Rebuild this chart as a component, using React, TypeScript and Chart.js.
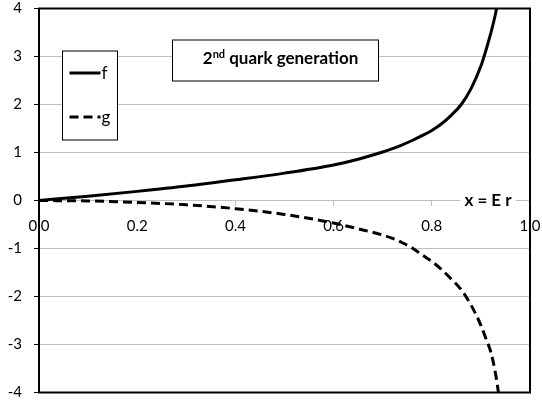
import React, { useEffect, useRef } from "react";
import { Chart, registerables } from "chart.js";

Chart.register(...registerables);

const xValues = [0, 0.1, 0.2, 0.3, 0.4, 0.5, 0.6, 0.65, 0.7, 0.72, 0.74, 0.76, 0.78, 0.8, 0.82, 0.84, 0.86, 0.88, 0.9, 0.91, 0.92, 0.93, 0.94];
const fValues = [0, 0.09, 0.19, 0.3, 0.43, 0.57, 0.74, 0.86, 1.01, 1.08, 1.16, 1.25, 1.35, 1.46, 1.6, 1.78, 2.0, 2.33, 2.8, 3.12, 3.48, 3.9, 4.45];
const gValues = [0, -0.01, -0.04, -0.09, -0.17, -0.29, -0.47, -0.59, -0.72, -0.79, -0.88, -0.99, -1.13, -1.27, -1.44, -1.64, -1.86, -2.18, -2.6, -2.87, -3.15, -3.62, -4.3];
const seriesLabels = ["f", "g"];
const boxTitleMain = "2";
const boxTitleSup = "nd";
const boxTitleRest = " quark generation";
const xAxisLabel = "x = E r";

const FONT = "Lato, 'Open Sans', sans-serif";

const decorPlugin = {
  id: "decor",
  afterDatasetsDraw(chart: any) {
    const { ctx, chartArea } = chart;
    const L = chartArea.left;
    const T = chartArea.top;
    ctx.save();
    // plot border
    ctx.strokeStyle = "#000";
    ctx.lineWidth = 2;
    ctx.strokeRect(chartArea.left, chartArea.top, chartArea.right - chartArea.left, chartArea.bottom - chartArea.top);

    // legend box
    const lx = L + 23.5, ly = T + 42.5, lw = 55, lh = 89;
    ctx.fillStyle = "#fff";
    ctx.fillRect(lx, ly, lw, lh);
    ctx.lineWidth = 1;
    ctx.strokeStyle = "#000";
    ctx.strokeRect(lx, ly, lw, lh);
    const rows = [T + 64.5, T + 108.5];
    chart.data.datasets.forEach((ds: any, i: number) => {
      const y = rows[i];
      ctx.beginPath();
      ctx.lineWidth = 3;
      ctx.strokeStyle = ds.borderColor;
      ctx.setLineDash(ds.borderDash || []);
      ctx.moveTo(lx + 7, y);
      ctx.lineTo(lx + 38, y);
      ctx.stroke();
      ctx.setLineDash([]);
      ctx.fillStyle = "#000";
      ctx.font = `17px ${FONT}`;
      ctx.textBaseline = "middle";
      ctx.textAlign = "left";
      ctx.fillText(ds.label, lx + 39, y + 1);
    });

    // title box
    const tx = L + 133.5, ty = T + 31.5, tw = 206, th = 41;
    ctx.fillStyle = "#fff";
    ctx.fillRect(tx, ty, tw, th);
    ctx.lineWidth = 1;
    ctx.strokeStyle = "#000";
    ctx.strokeRect(tx, ty, tw, th);
    ctx.fillStyle = "#000";
    ctx.textBaseline = "alphabetic";
    ctx.textAlign = "left";
    const bigFont = `bold 17px ${FONT}`;
    const supFont = `bold 11px ${FONT}`;
    ctx.font = bigFont;
    const w1 = ctx.measureText(boxTitleMain).width;
    const w3 = ctx.measureText(boxTitleRest).width;
    ctx.font = supFont;
    const w2 = ctx.measureText(boxTitleSup).width;
    let cx = tx + tw / 2 + 5 - (w1 + w2 + w3) / 2;
    const base = ty + 24;
    ctx.font = bigFont;
    ctx.fillText(boxTitleMain, cx, base);
    cx += w1;
    ctx.font = supFont;
    ctx.fillText(boxTitleSup, cx, base - 6);
    cx += w2;
    ctx.font = bigFont;
    ctx.fillText(boxTitleRest, cx, base);

    // x axis label on zero line
    const y0 = chart.scales.y.getPixelForValue(0);
    ctx.font = bigFont;
    const wl = ctx.measureText(xAxisLabel).width;
    const cxl = 488;
    ctx.fillStyle = "#fff";
    ctx.fillRect(cxl - wl / 2 - 4, y0 - 8, wl + 8, 16);
    ctx.fillStyle = "#000";
    ctx.textAlign = "center";
    ctx.textBaseline = "middle";
    ctx.fillText(xAxisLabel, cxl, y0);
    ctx.restore();
  },
};

export default function App() {
  const ref = useRef<HTMLCanvasElement | null>(null);
  useEffect(() => {
    if (!ref.current) return;
    const chart = new Chart(ref.current, {
      type: "line",
      data: {
        datasets: [
          {
            label: seriesLabels[0],
            data: xValues.map((x, i) => ({ x, y: fValues[i] })),
            borderColor: "#000",
            borderWidth: 3,
            pointRadius: 0,
            cubicInterpolationMode: "monotone",
          },
          {
            label: seriesLabels[1],
            data: xValues.map((x, i) => ({ x, y: gValues[i] })),
            borderColor: "#000",
            borderWidth: 3,
            borderDash: [9, 5],
            pointRadius: 0,
            cubicInterpolationMode: "monotone",
          },
        ],
      },
      options: {
        responsive: false,
        animation: false,
        layout: { padding: { top: 8.5, bottom: 11.5, right: 12, left: 0 } },
        plugins: { legend: { display: false }, tooltip: { enabled: false } },
        scales: {
          x: {
            type: "linear",
            position: { y: 0 } as any,
            min: 0,
            max: 1,
            ticks: {
              stepSize: 0.2,
              callback: (v: any) => Number(v).toFixed(1),
              color: "#000",
              font: { family: FONT, size: 15 },
              padding: 12,
              maxRotation: 0,
            },
            grid: { drawOnChartArea: false, tickLength: 5, tickColor: "#bfbfbf" },
            border: { color: "#bfbfbf", width: 1 },
            afterFit: (s: any) => {
              s.height = 0;
              s.paddingLeft = 0;
              s.paddingRight = 0;
              s.paddingTop = 0;
              s.paddingBottom = 0;
            },
          },
          y: {
            min: -4,
            max: 4,
            ticks: {
              stepSize: 1,
              color: "#000",
              font: { family: FONT, size: 15 },
              padding: 12,
            },
            grid: { color: "#bfbfbf", lineWidth: 1, tickLength: 5, tickColor: "#000" },
            border: { color: "#000", width: 2 },
            afterFit: (s: any) => {
              s.width = 39;
              s.paddingTop = 0;
              s.paddingBottom = 0;
              s.paddingLeft = 0;
              s.paddingRight = 0;
            },
          },
        },
      },
      plugins: [decorPlugin],
    });
    return () => chart.destroy();
  }, []);
  return (
    <div style={{ position: "absolute", left: 0, top: 0, width: 542, height: 404 }}>
      <canvas ref={ref} width={542} height={404} style={{ display: "block" }} />
    </div>
  );
}
